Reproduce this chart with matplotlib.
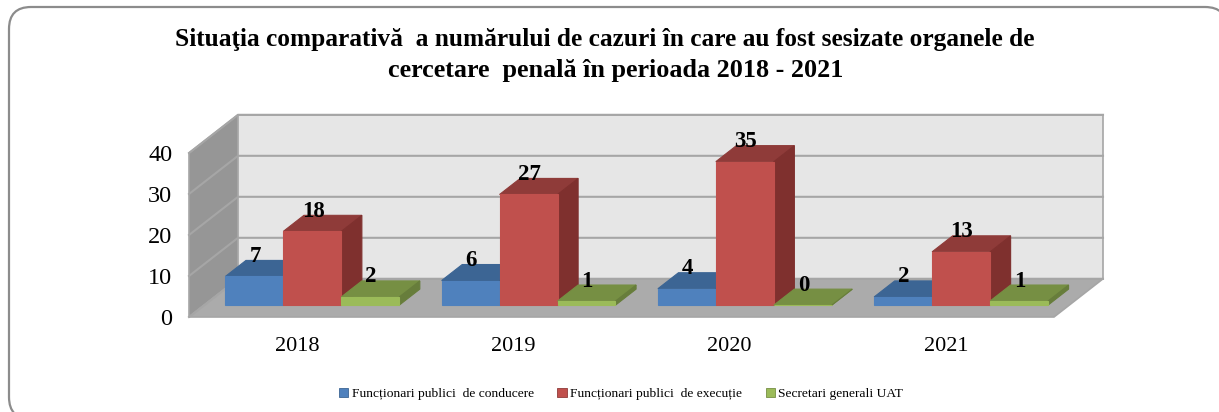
import matplotlib
matplotlib.use("Agg")
from matplotlib import pyplot as plt
from matplotlib.patches import FancyBboxPatch, Patch, Polygon

years = ["2018", "2019", "2020", "2021"]
conducere = [7, 6, 4, 2]
executie = [18, 27, 35, 13]
secretari = [2, 1, 0, 1]
y_ticks = [0, 10, 20, 30, 40]
title_1 = "Situaţia comparativă  a numărului de cazuri în care au fost sesizate organele de"
title_2 = "cercetare  penală în perioada 2018 - 2021"
names = ["Funcționari publici  de conducere", "Funcționari publici  de execuție", "Secretari generali UAT"]

# front, top, side colours per series
colors = [("#4F81BD", "#3C6594", "#38608C"),
          ("#C0504D", "#8F3B39", "#7F302E"),
          ("#9BBB59", "#768F43", "#677D3B")]

W, H = 1219, 412
# depth of the fake 3d box, in data units
DEPTH_X = 49 / 216.25
DEPTH_Y = 38 / 4.08
BAR_W = 0.268
D0, D1 = 0.31, 0.73


def proj(x, v, d):
    return x + d * DEPTH_X, v + d * DEPTH_Y


plt.rcParams["font.family"] = ["Liberation Serif", "DejaVu Serif"]
fig = plt.figure(figsize=(W / 100, H / 100), dpi=100)
ax = fig.add_axes([189 / W, (H - 317) / H, 865 / W, 164 / H])
ax.set_xlim(0, 4)
ax.set_ylim(0, 40)
ax.patch.set_visible(False)
for s in ax.spines.values():
    s.set_visible(False)

# rounded frame, runs off the right and bottom of the image
bg = fig.add_axes([0, 0, 1, 1], zorder=-1)
bg.set_xlim(0, W)
bg.set_ylim(H, 0)
bg.axis("off")
bg.add_patch(FancyBboxPatch((31, 29), 1174, 368, boxstyle="round,pad=22,rounding_size=22",
                            fc="white", ec="#8C8C8C", lw=1.6, clip_on=False))


def poly(points, fc, ec=None, lw=0.8, z=1):
    ax.add_patch(Polygon(points, closed=True, fc=fc, ec=ec or fc, lw=lw, zorder=z, clip_on=False))


# walls and floor
poly([proj(0, 0, 0), proj(0, 40, 0), proj(0, 40, 1), proj(0, 0, 1)], "#969696", "#A6A6A6", 1.2)
poly([proj(0, 0, 1), proj(0, 40, 1), proj(4, 40, 1), proj(4, 0, 1)], "#E6E6E6", "#A6A6A6", 1.2)
poly([proj(0, 0, 0), proj(4, 0, 0), proj(4, 0, 1), proj(0, 0, 1)], "#ABABAB", "#A6A6A6", 1.2)

for t in y_ticks:
    xs, ys = zip(proj(0, t, 0), proj(0, t, 1), proj(4, t, 1))
    ax.plot(xs, ys, color="#A6A6A6", lw=1.5, zorder=1.5, clip_on=False, solid_joinstyle="miter")

# bars, painted left to right so each one covers the side of the last
z = 2
for i, year in enumerate(years):
    for j, values in enumerate([conducere, executie, secretari]):
        v = values[i]
        front, top, side = colors[j]
        x0 = i + 0.5 + (j - 1.5) * BAR_W
        x1 = x0 + BAR_W
        poly([proj(x0, v, D0), proj(x0, v, D1), proj(x1, v, D1), proj(x1, v, D0)], top, z=z)
        poly([proj(x1, 0, D0), proj(x1, 0, D1), proj(x1, v, D1), proj(x1, v, D0)], side, z=z)
        xb, yb = proj(x0, 0, D0)
        ax.bar(xb, v, BAR_W, bottom=yb, align="edge", color=front, edgecolor=front, lw=0.8,
               zorder=z + 0.5, clip_on=False)
        xt, yt = proj(x0 + BAR_W / 2, v, D0)
        ax.annotate(str(v), (xt, yt), xytext=(0.5, 14.4), textcoords="offset points", ha="center",
                    va="center", fontsize=16.5, fontweight="bold", color="black", zorder=20)
        z += 1

ax.set_yticks(y_ticks)
ax.set_xticks([i + 0.5 for i in range(len(years))])
ax.set_xticklabels(years)
ax.tick_params(axis="y", length=0, pad=12, labelsize=17.5)
ax.tick_params(axis="x", length=0, pad=14.5, labelsize=16)

# second title line sits a bit right of centre in the original
fig.text(604.5 / W, 1 - 39.5 / H, title_1, ha="center", va="center", fontsize=18.3, fontweight="bold")
fig.text(616 / W, 1 - 71 / H, title_2, ha="center", va="center", fontsize=18.8, fontweight="bold")

handles = [Patch(fc=c[0], ec=c[1], lw=0.6) for c in colors]
fig.legend(handles, names, loc="center", bbox_to_anchor=(621 / W, 1 - 394 / H), ncol=3, frameon=False,
           fontsize=9.7, handlelength=0.7, handleheight=0.7, handletextpad=0.25, columnspacing=1.75)

fig.savefig("out.png", dpi=100)
